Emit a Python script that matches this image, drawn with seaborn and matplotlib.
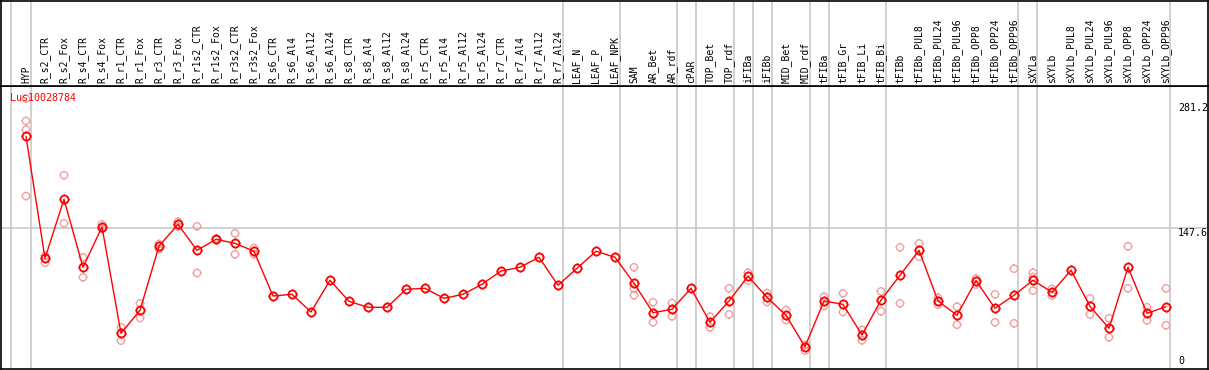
import numpy as np
import pandas as pd
import matplotlib
matplotlib.use("Agg")
import matplotlib.pyplot as plt
import seaborn as sns
from matplotlib.path import Path

gene = "Lus10028784"

categories = [
    "HYP", "R_s2_CTR", "R_s2_Fox", "R_s4_CTR", "R_s4_Fox", "R_r1_CTR", "R_r1_Fox",
    "R_r3_CTR", "R_r3_Fox", "R_r1s2_CTR", "R_r1s2_Fox", "R_r3s2_CTR", "R_r3s2_Fox",
    "R_s6_CTR", "R_s6_Al4", "R_s6_Al12", "R_s6_Al24", "R_s8_CTR", "R_s8_Al4",
    "R_s8_Al12", "R_s8_Al24", "R_r5_CTR", "R_r5_Al4", "R_r5_Al12", "R_r5_Al24",
    "R_r7_CTR", "R_r7_Al4", "R_r7_Al12", "R_r7_Al24", "LEAF_N", "LEAF_P", "LEAF_NPK",
    "SAM", "AR_Bet", "AR_rdf", "cPAR", "TOP_Bet", "TOP_rdf", "iFIBa", "iFIBb",
    "MID_Bet", "MID_rdf", "tFIBa", "tFIB_Gr", "tFIB_Li", "tFIB_Bi", "tFIBb",
    "tFIBb_PUL8", "tFIBb_PUL24", "tFIBb_PUL96", "tFIBb_OPP8", "tFIBb_OPP24",
    "tFIBb_OPP96", "sXYLa", "sXYLb", "sXYLb_PUL8", "sXYLb_PUL24", "sXYLb_PUL96",
    "sXYLb_OPP8", "sXYLb_OPP24", "sXYLb_OPP96",
]

means = [
    245.3, 114.9, 178.0, 105.3, 148.4, 34.7, 59.3, 128.0, 151.2, 123.4, 135.2, 130.9,
    122.4, 74.6, 76.4, 57.5, 91.4, 68.9, 62.5, 62.5, 81.8, 82.8, 72.1, 76.4, 87.1,
    101.3, 105.3, 116.0, 86.0, 104.2, 122.4, 116.0, 88.2, 56.8, 60.4, 82.8, 46.5,
    69.3, 95.7, 73.2, 54.0, 20.4, 69.3, 65.7, 32.9, 70.3, 96.7, 123.4, 69.3, 54.0,
    91.0, 61.5, 75.4, 91.4, 78.6, 102.1, 63.6, 40.1, 105.3, 56.1, 63.2,
]

replicates = [
    [285.9, 261.7, 252.4, 181.4], [117.7, 110.2], [203.6, 152.3], [116.0, 94.6],
    [151.2, 146.2], [41.2, 26.8], [66.8, 51.1], [130.2, 124.8], [154.0, 148.7],
    [149.1, 99.2], [135.8, 134.5], [141.6, 119.2], [125.9, 119.2],
    [], [], [], [], [], [], [], [], [], [], [], [], [], [], [], [], [], [], [],
    [105.3, 82.8, 75.4], [67.9, 46.5], [67.1, 52.9], [], [52.5, 41.2], [82.8, 55.0],
    [99.5, 91.0], [77.8, 68.2], [59.6, 49.0], [22.2, 16.1], [73.9, 63.9],
    [77.5, 57.5], [38.3, 27.3], [79.6, 58.3], [126.7, 66.8], [130.9, 116.6],
    [72.8, 65.3], [63.2, 43.9], [93.1, 86.7], [76.4, 46.5], [103.8, 45.4],
    [99.5, 94.9, 80.3], [82.1, 74.9], [], [72.1, 55.0], [50.8, 30.5], [127.7, 82.8],
    [62.5, 48.6], [82.8, 43.3],
]

group_breaks = [-0.79, 0.25, 28.25, 31.25, 34.25, 35.25, 37.25, 38.25, 39.25,
                41.25, 42.25, 45.25, 52.2, 53.2, 60.2]
grid_value = 147.6
y_labels = [281.2, 147.6, 0]

df_mean = pd.DataFrame({"idx": np.arange(len(categories)), "value": means})
rep_idx, rep_val = [], []
for i, reps in enumerate(replicates):
    for v in reps:
        rep_idx.append(i)
        rep_val.append(v)
df_rep = pd.DataFrame({"idx": rep_idx, "value": rep_val})

sns.set_theme(style="white")
plt.rcParams["font.family"] = ["DejaVu Sans Mono", "DejaVu Sans"]

W, H = 1209, 370
fig = plt.figure(figsize=(W / 100, H / 100), dpi=100)


def box(l, t, r, b):
    return [l / W, (H - b) / H, (r - l) / W, (b - t) / H]


ax = fig.add_axes(box(1, 85.5, 1208, 369))
hx = fig.add_axes(box(1, 0.5, 1208, 85.5))

# custom marker: circle with four short ticks
circ = Path.circle((0, 0), 1.0)
tick_paths = [Path([(a, b), (a * 1.22, b * 1.22)], [Path.MOVETO, Path.LINETO])
              for a, b in [(1, 0), (-1, 0), (0, 1), (0, -1)]]
gear = Path.make_compound_path(circ, *tick_paths)

xmin, xmax = (1 - 26) / 19, (1208 - 26) / 19
ymin, ymax = (365.8 - 369) / 0.9356, (365.8 - 85.5) / 0.9356

for a in (ax, hx):
    for xb in group_breaks:
        a.axvline(xb, color="#c4c4c4", lw=1.1, zorder=0)
    a.set_xlim(xmin, xmax)
    a.set_xticks([])
    a.set_yticks([])
    for s in a.spines.values():
        s.set_color("black")
        s.set_linewidth(1.2)

ax.axhline(grid_value, color="#c4c4c4", lw=1.1, zorder=0)
ax.set_ylim(ymin, ymax)
hx.set_ylim(0, 1)

sns.scatterplot(data=df_rep, x="idx", y="value", ax=ax, marker=gear, s=40,
                facecolors="none", edgecolors="#f0a0a0", linewidths=1.0,
                color="#f0a0a0", zorder=2, legend=False)
sns.lineplot(data=df_mean, x="idx", y="value", ax=ax, color="#ff0000", lw=1.0,
             marker=gear, markersize=7.0, markerfacecolor="none",
             markeredgecolor="#ff0000", markeredgewidth=1.3, zorder=3)
ax.set_xlabel("")
ax.set_ylabel("")

ax.text((9.7 - 26) / 19, (365.8 - 98) / 0.9356, gene, color="#ff0000",
        fontsize=7.2, ha="left", va="center", zorder=4)

lx = (1178 - 26) / 19
for v in y_labels:
    ax.text(lx, v, f"{v:g}" if v == 0 else f"{v:.1f}", fontsize=7.2,
            ha="left", va="bottom" if v == 0 else "top", color="black")

for i, c in enumerate(categories):
    hx.text(i, 0.03, c, rotation=90, ha="center", va="bottom", fontsize=7.0,
            color="black")

fig.savefig("out.png", dpi=100)
